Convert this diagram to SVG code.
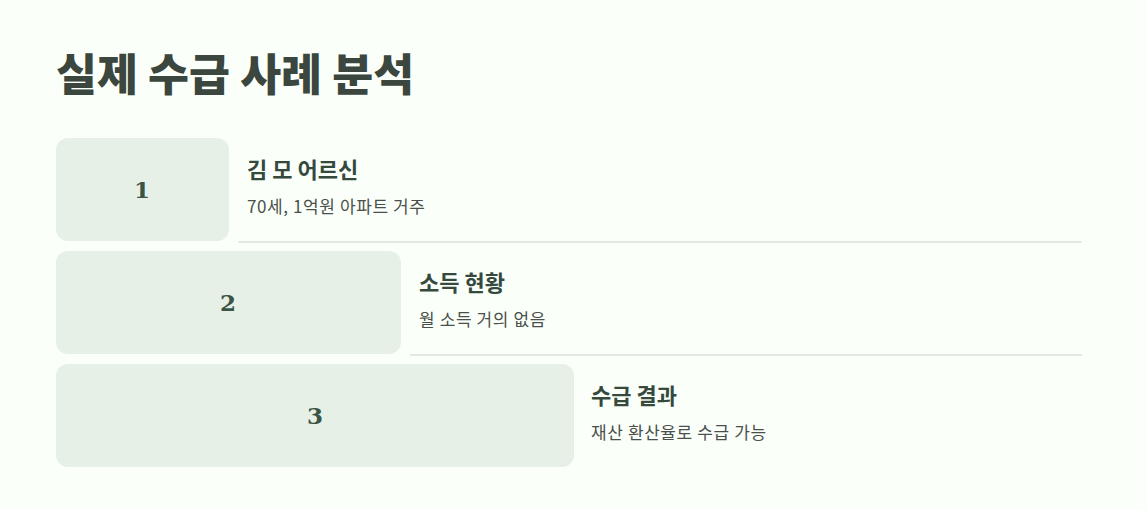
<svg xmlns="http://www.w3.org/2000/svg" width="1147" height="510" viewBox="0 0 1147 510">
<style>
.box{fill:#e6f0e7}
.num{font-family:"DejaVu Serif","Liberation Serif",serif;font-weight:bold;font-size:23px;fill:#3a5446;text-anchor:middle}
.h{font-family:"Noto Sans CJK KR",sans-serif;font-weight:bold;font-size:22px;fill:#354a3d}
.s{font-family:"Noto Sans CJK KR",sans-serif;font-size:17px;letter-spacing:0.6px;fill:#4a4f4b}
.div{stroke:#e3e8e3;stroke-width:2}
</style>
<rect width="1147" height="510" fill="#fbfffa"/>
<text x="56" y="91" font-family="'Noto Sans CJK KR',sans-serif" font-weight="900" font-size="44.5" fill="#3a463e">실제 수급 사례 분석</text>
<g id="connectors">
<line class="div" x1="238" y1="242" x2="1082" y2="242"/>
<line class="div" x1="410" y1="355" x2="1082" y2="355"/>
</g>
<g id="step1">
<rect class="box" x="56" y="138" width="173" height="103" rx="12"/>
<text class="num" x="142" y="198">1</text>
<text class="h" x="247" y="178">김 모 어르신</text>
<text class="s" x="247" y="213">70세, 1억원 아파트 거주</text>
</g>
<g id="step2">
<rect class="box" x="56" y="251" width="345" height="103" rx="12"/>
<text class="num" x="228" y="311">2</text>
<text class="h" x="419" y="291">소득 현황</text>
<text class="s" x="419" y="326">월 소득 거의 없음</text>
</g>
<g id="step3">
<rect class="box" x="56" y="364" width="518" height="103" rx="12"/>
<text class="num" x="315" y="424">3</text>
<text class="h" x="591" y="404">수급 결과</text>
<text class="s" x="591" y="439">재산 환산율로 수급 가능</text>
</g>
</svg>
